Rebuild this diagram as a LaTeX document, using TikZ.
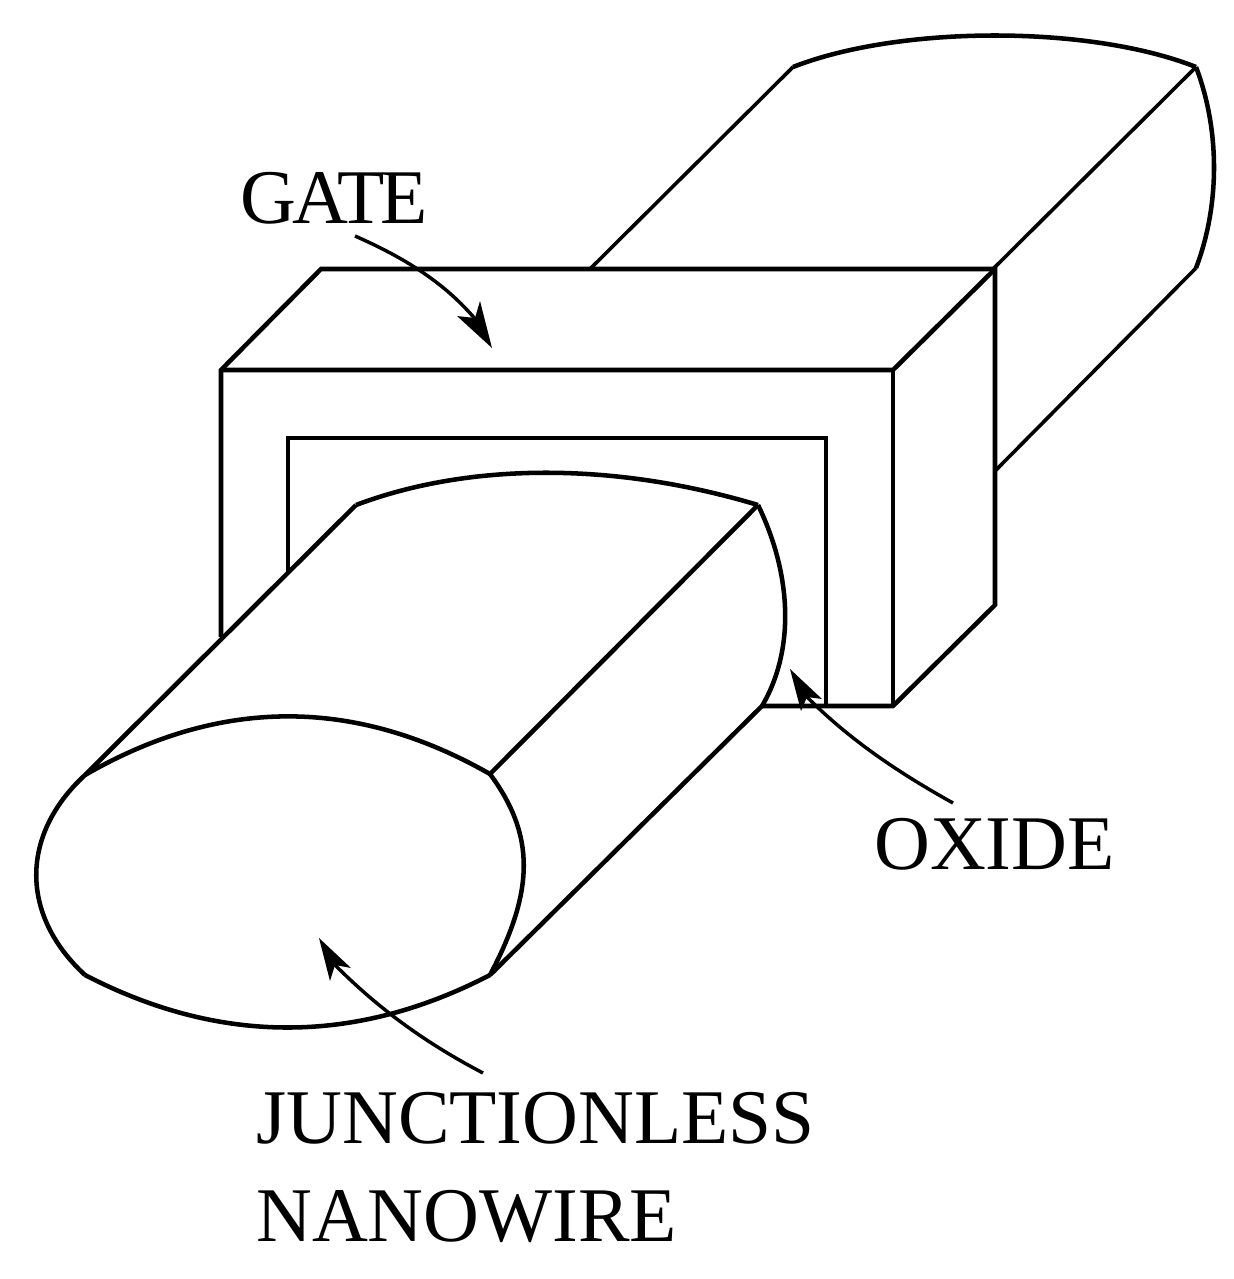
\documentclass[tikz,border=0pt]{standalone}
\usepackage{fontspec}
\setmainfont{Liberation Serif}
\tikzset{
  body/.style={line width=3.4pt,line join=miter,black},
  thinline/.style={line width=2.7pt,black},
  lead/.style={line width=2.6pt,black},
  label/.style={inner sep=0pt,anchor=base west,font=\fontsize{58}{60}\selectfont},
  head/.style={fill=black,draw=none}
}
\begin{document}
\begin{tikzpicture}[x=0.75pt,y=-0.75pt]
\useasboundingbox (0,0) rectangle (1233,1279);
% back of the wire
\draw[thinline] (793,67) -- (590,269);
\draw[body] (793,67) .. controls (900,25) and (1090,25) .. (1196,67);
\draw[body] (1196,67) .. controls (1220,130) and (1220,205) .. (1196,268);
\draw[thinline] (1196,67) -- (993,269);
\draw[thinline] (1196,268) -- (996,470);
% gate
\draw[body] (221,637) -- (221,370) -- (321,269) -- (995,269) -- (995,605) -- (893,706) -- (762,706);
\draw[body] (221,370) -- (893,370) -- (995,269);
\draw[body] (893,370) -- (893,706);
% oxide
\draw[body] (288,572) -- (288,438) -- (826,438) -- (826,706);
% front of the wire
\draw[body] (356,505) -- (85,775);
\draw[body] (758,505) -- (490,774);
\draw[body] (762,706) -- (490,975);
\draw[body] (356,505) .. controls (470,462) and (615,462) .. (758,505);
\draw[body] (758,505) .. controls (792,575) and (795,650) .. (762,706);
\draw[body] (85,775) .. controls (220,697) and (355,697) .. (490,774);
\draw[body] (490,774) .. controls (535,835) and (535,890) .. (490,975);
\draw[body] (490,975) .. controls (355,1045) and (220,1045) .. (85,975);
\draw[body] (85,975) .. controls (20,915) and (20,835) .. (85,775);
% labels
\node[label] (gate) at (240,223) {G\kern-3pt A\kern-8pt T\kern-3pt E};
\node[label] (oxide) at (874,869) {OXIDE};
\node[label] (jl) at (256,1143) {JUNCTIONLESS};
\node[label] (nw) at (256,1241) {NANOWIRE};
% leaders
\coordinate (g1) at (355,236); \coordinate (g2) at (492,348);
\coordinate (o1) at (953,803); \coordinate (o2) at (790,669);
\coordinate (j1) at (483,1073); \coordinate (j2) at (319,938);
\draw[lead] (g1) .. controls (405,258) and (445,283) .. (476,320);
\fill[head] (g2) -- (457,316) -- (475,318) -- (480,301) -- cycle;
\draw[lead] (o1) .. controls (890,768) and (845,735) .. (807,697);
\fill[head] (o2) -- (822,699) -- (807,697) -- (801,711) -- cycle;
\draw[lead] (j1) .. controls (420,1040) and (375,1005) .. (335,965);
\fill[head] (j2) -- (351,968) -- (335,965) -- (330,981) -- cycle;
\end{tikzpicture}
\end{document}
